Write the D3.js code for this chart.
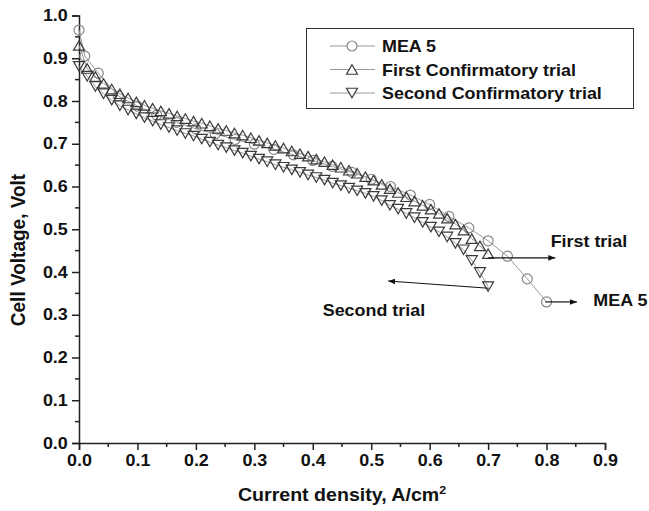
<!DOCTYPE html>
<html lang="en">
<head>
<meta charset="UTF-8">
<title>Cell voltage vs current density</title>
<style>
  body { margin: 0; background: #fff; }
  svg text { font-family: "Liberation Sans", Arial, sans-serif; font-weight: bold; fill: #111; }
</style>
</head>
<body>
<svg id="chart" width="649" height="511"></svg>
<script src="https://cdn.jsdelivr.net/npm/d3@7"></script>
<script>
// MEA 5 (circles)
var meaX = [0, 0.01, 0.033, 0.067, 0.1, 0.133, 0.167, 0.2, 0.233, 0.267, 0.3, 0.333, 0.367, 0.4,
  0.433, 0.467, 0.5, 0.533, 0.567, 0.6, 0.633, 0.667, 0.7, 0.733, 0.767, 0.8];
var meaY = [0.966, 0.905, 0.865, 0.812, 0.788, 0.767, 0.750, 0.735, 0.723, 0.710, 0.699, 0.687, 0.674, 0.661,
  0.647, 0.633, 0.617, 0.600, 0.580, 0.558, 0.530, 0.503, 0.473, 0.437, 0.384, 0.330];

// confirmatory trials share the same current steps
var trialX = [0, 0.014, 0.028, 0.042, 0.056, 0.07, 0.084, 0.098, 0.112, 0.126, 0.14, 0.154, 0.168, 0.182,
  0.196, 0.21, 0.224, 0.238, 0.252, 0.266, 0.28, 0.294, 0.308, 0.322, 0.336, 0.35, 0.364, 0.378, 0.392,
  0.406, 0.42, 0.434, 0.448, 0.462, 0.476, 0.49, 0.504, 0.518, 0.532, 0.546, 0.56, 0.574, 0.588, 0.602,
  0.616, 0.63, 0.644, 0.658, 0.672, 0.686, 0.7];
var firstY = [0.930, 0.876, 0.857, 0.841, 0.828, 0.817, 0.807, 0.798, 0.790, 0.783, 0.777, 0.771, 0.765, 0.759,
  0.753, 0.748, 0.742, 0.736, 0.731, 0.725, 0.720, 0.714, 0.708, 0.702, 0.696, 0.690, 0.683, 0.677, 0.671,
  0.664, 0.658, 0.651, 0.645, 0.638, 0.631, 0.623, 0.615, 0.605, 0.595, 0.586, 0.576, 0.566, 0.556, 0.547,
  0.537, 0.526, 0.512, 0.498, 0.478, 0.461, 0.443];
var secondY = [0.881, 0.858, 0.834, 0.817, 0.802, 0.789, 0.779, 0.770, 0.761, 0.753, 0.745, 0.738, 0.731, 0.724,
  0.718, 0.711, 0.704, 0.697, 0.691, 0.684, 0.678, 0.671, 0.664, 0.658, 0.651, 0.645, 0.639, 0.633, 0.627,
  0.621, 0.615, 0.608, 0.602, 0.596, 0.590, 0.584, 0.577, 0.567, 0.556, 0.547, 0.537, 0.527, 0.516, 0.505,
  0.494, 0.482, 0.467, 0.452, 0.427, 0.399, 0.366];

var xTicks = [0, 0.1, 0.2, 0.3, 0.4, 0.5, 0.6, 0.7, 0.8, 0.9];
var yTicks = [0, 0.1, 0.2, 0.3, 0.4, 0.5, 0.6, 0.7, 0.8, 0.9, 1.0];
var legendNames = ["MEA 5", "First Confirmatory trial", "Second Confirmatory trial"];

var svg = d3.select("#chart");
var x = d3.scaleLinear().domain([0, 0.9]).range([79, 605]);
var y = d3.scaleLinear().domain([0, 1]).range([443, 15.5]);
var SX = 1.12; // the original's lettering is a bit wider than Arial

// text helper: anchored at (px, py), stretched horizontally
function label(px, py, str, size, anchor) {
  return svg.append("text")
    .attr("transform", "translate(" + px + "," + py + ") scale(" + SX + ",1)")
    .attr("text-anchor", anchor || "start").attr("font-size", size).text(str);
}

// axes
var xAxis = svg.append("g").attr("transform", "translate(0," + y(0) + ")")
  .call(d3.axisBottom(x).tickValues(xTicks).tickFormat(d3.format(".1f")).tickSize(7).tickPadding(5));
var yAxis = svg.append("g").attr("transform", "translate(" + x(0) + ",0)")
  .call(d3.axisLeft(y).tickValues(yTicks).tickFormat(d3.format(".1f")).tickSize(7).tickPadding(3));
[xAxis, yAxis].forEach(function(g) {
  g.select(".domain").attr("stroke", "#222").attr("stroke-width", 1.5);
  g.selectAll(".tick line").attr("stroke", "#222").attr("stroke-width", 1.5);
  g.selectAll(".tick text").attr("font-size", 16).attr("font-family", null).attr("fill", "#111")
    .attr("transform", "scale(" + SX + ",1)");
});
// minor ticks
svg.append("g").selectAll("line").data(xTicks.slice(0, -1)).join("line")
  .attr("x1", d => x(d + 0.05)).attr("x2", d => x(d + 0.05))
  .attr("y1", y(0)).attr("y2", y(0) + 4).attr("stroke", "#222").attr("stroke-width", 1.5);
svg.append("g").selectAll("line").data(yTicks.slice(0, -1)).join("line")
  .attr("y1", d => y(d + 0.05)).attr("y2", d => y(d + 0.05))
  .attr("x1", x(0)).attr("x2", x(0) - 4).attr("stroke", "#222").attr("stroke-width", 1.5);

// axis titles
var xt = label((x(0) + x(0.9)) / 2, 501, "Current density, A/cm", 17.5, "middle");
xt.append("tspan").attr("font-size", 11).attr("dy", -7).text("2");
svg.append("text").attr("transform", "translate(25,250) rotate(-90) scale(1,1.1)")
  .attr("text-anchor", "middle").attr("font-size", 19).text("Cell Voltage, Volt");

// marker shapes
function tri(up, w, h) {
  var s = up ? 1 : -1;
  return "M0," + (-s * h / 2) + "L" + (w / 2) + "," + (s * h / 2) + "L" + (-w / 2) + "," + (s * h / 2) + "Z";
}
var line = d3.line().x(d => x(d[0])).y(d => y(d[1]));

var mea = meaX.map((v, i) => [v, meaY[i]]);
var first = trialX.map((v, i) => [v, firstY[i]]);
var second = trialX.map((v, i) => [v, secondY[i]]);

[mea, first, second].forEach(function(s) {
  svg.append("path").datum(s).attr("d", line).attr("fill", "none")
    .attr("stroke", "#999").attr("stroke-width", 1);
});

svg.append("g").selectAll("circle").data(mea).join("circle")
  .attr("cx", d => x(d[0])).attr("cy", d => y(d[1])).attr("r", 5)
  .attr("fill", "none").attr("stroke", "#888").attr("stroke-width", 1.2);
svg.append("g").selectAll("path").data(first).join("path")
  .attr("transform", d => "translate(" + x(d[0]) + "," + y(d[1]) + ")")
  .attr("d", tri(true, 11, 9.5)).attr("fill", "none").attr("stroke", "#3a3a3a").attr("stroke-width", 1.2);
svg.append("g").selectAll("path").data(second).join("path")
  .attr("transform", d => "translate(" + x(d[0]) + "," + y(d[1]) + ")")
  .attr("d", tri(false, 11, 9.5)).attr("fill", "none").attr("stroke", "#3a3a3a").attr("stroke-width", 1.2);

// annotations with arrows
svg.append("defs").append("marker").attr("id", "arr").attr("viewBox", "0 0 10 10")
  .attr("refX", 10).attr("refY", 5).attr("markerWidth", 7).attr("markerHeight", 7)
  .attr("markerUnits", "userSpaceOnUse").attr("orient", "auto")
  .append("path").attr("d", "M0,1L10,5L0,9Z").attr("fill", "#111");
function arrow(x1, y1, x2, y2) {
  svg.append("line").attr("x1", x(x1)).attr("y1", y(y1)).attr("x2", x(x2)).attr("y2", y(y2))
    .attr("stroke", "#111").attr("stroke-width", 1.2).attr("marker-end", "url(#arr)");
}
arrow(0.70, 0.433, 0.815, 0.433);
arrow(0.798, 0.330, 0.852, 0.330);
arrow(0.701, 0.362, 0.529, 0.379);
label(x(0.807), y(0.459), "First trial", 16);
label(x(0.880), y(0.320), "MEA 5", 16);
label(x(0.417), y(0.296), "Second trial", 16);

// legend
var lg = svg.append("g");
lg.append("rect").attr("x", 306.5).attr("y", 28.5).attr("width", 327).attr("height", 80)
  .attr("fill", "#fff").attr("stroke", "#333").attr("stroke-width", 1);
legendNames.forEach(function(name, i) {
  var ly = 46 + i * 23.5;
  lg.append("line").attr("x1", 330).attr("x2", 375).attr("y1", ly).attr("y2", ly)
    .attr("stroke", "#999").attr("stroke-width", 1);
  if (i === 0) {
    lg.append("circle").attr("cx", 352).attr("cy", ly).attr("r", 5)
      .attr("fill", "#fff").attr("stroke", "#888").attr("stroke-width", 1.2);
  } else {
    lg.append("path").attr("transform", "translate(352," + ly + ")").attr("d", tri(i === 1, 11, 9.5))
      .attr("fill", "#fff").attr("stroke", "#3a3a3a").attr("stroke-width", 1.2);
  }
  lg.append("text").attr("transform", "translate(382," + (ly + 6) + ") scale(" + SX + ",1)")
    .attr("font-size", 16).text(name);
});
</script>
</body>
</html>
